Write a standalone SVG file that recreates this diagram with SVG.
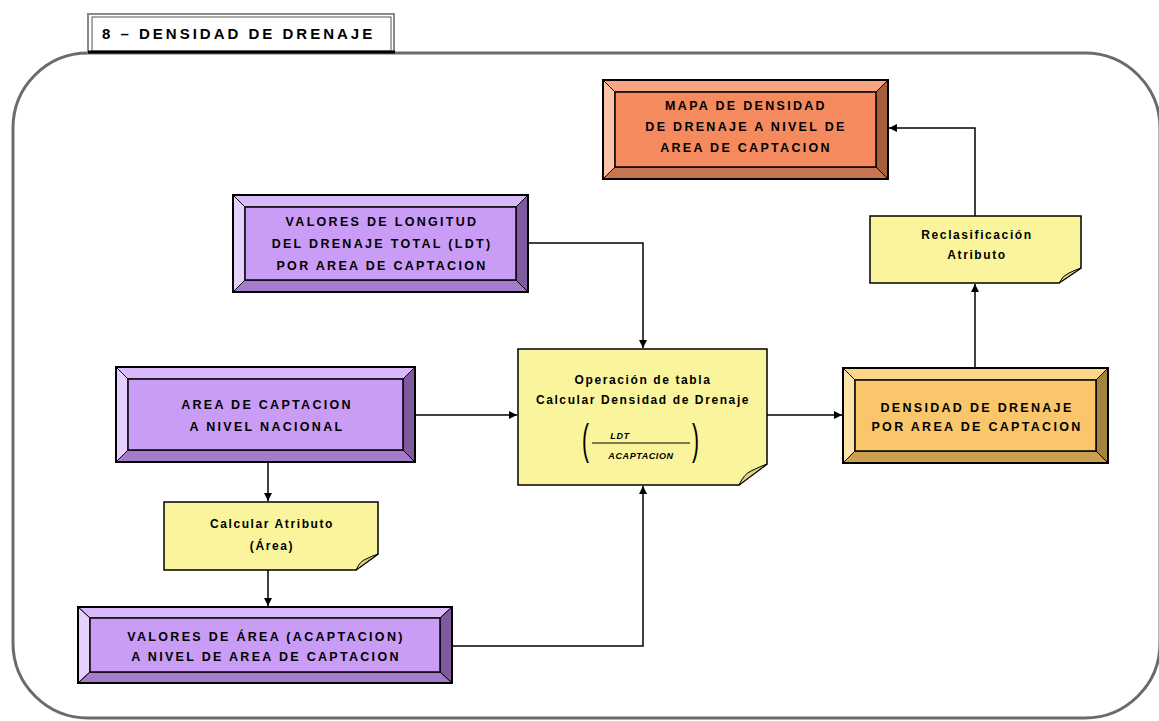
<svg xmlns="http://www.w3.org/2000/svg" width="1159" height="721" viewBox="0 0 1159 721">
  <style>
    .frame { fill: none; stroke: #6b6b6b; stroke-width: 3; }
    .edge { stroke: #000; stroke-width: 1; }
    .outer { fill: none; stroke: #000; stroke-width: 2; }
    .inner { stroke: #000; stroke-width: 1.5; }
    .btxt { font-family: "Liberation Sans", Arial, sans-serif; font-weight: bold; font-size: 12.5px; letter-spacing: 2.3px; text-anchor: middle; fill: #000; }
    .ntxt { font-family: "Liberation Sans", Arial, sans-serif; font-weight: bold; font-size: 12px; letter-spacing: 1.6px; text-anchor: middle; fill: #000; }
    .title { font-family: "Liberation Sans", Arial, sans-serif; font-weight: bold; font-size: 15px; letter-spacing: 3px; fill: #000; }
    .note { fill: #faf59c; stroke: #000; stroke-width: 1.5; }
    .fold { fill: #d9d17d; stroke: #000; stroke-width: 1; }
    .conn { fill: none; stroke: #000; stroke-width: 1.5; }
    .frac { font-family: "Liberation Sans", Arial, sans-serif; font-weight: bold; font-style: italic; font-size: 9px; text-anchor: middle; fill: #000; letter-spacing: 0.6px; }
    .paren { font-family: "Liberation Sans", Arial, sans-serif; font-weight: normal; font-size: 42px; fill: #000; }
    /* orange */
    .o-main { fill: #f48a5e; } .o-top { fill: #f7a582; } .o-left { fill: #fbc2a5; } .o-right { fill: #a65e3c; } .o-bot { fill: #c97450; }
    /* purple */
    .p-main { fill: #c99cf6; } .p-top { fill: #d8b9fb; } .p-left { fill: #e5d0fe; } .p-right { fill: #805a9f; } .p-bot { fill: #a47cc9; }
    /* gold */
    .g-main { fill: #f9c66b; } .g-top { fill: #fbd68b; } .g-left { fill: #fde3a9; } .g-right { fill: #a2823f; } .g-bot { fill: #caa150; }
  </style>
  <defs>
    <marker id="arrow" viewBox="0 0 10 10" refX="10" refY="5" markerWidth="8" markerHeight="8" markerUnits="userSpaceOnUse" orient="auto">
      <path d="M0,0 L10,5 L0,10 Z" fill="#000"/>
    </marker>
  </defs>

  <rect width="1159" height="721" fill="#fff"/>

  <!-- outer frame -->
  <rect class="frame" x="13" y="53" width="1147" height="665" rx="75" ry="75"/>

  <!-- title tab -->
  <g id="title">
    <rect x="88" y="14" width="306" height="38" fill="#fff" stroke="#8a8a8a" stroke-width="2"/>
    <rect x="92" y="17" width="299" height="34" fill="none" stroke="#555" stroke-width="1"/>
    <line x1="88" y1="52" x2="395" y2="52" stroke="#000" stroke-width="3"/>
    <text class="title" x="102" y="39">8 – DENSIDAD DE DRENAJE</text>
  </g>

  <!-- connectors -->
  <g id="connectors">
    <polyline class="conn" points="528,243 643,243 643,348" marker-end="url(#arrow)"/>
    <line class="conn" x1="415" y1="415" x2="517" y2="415" marker-end="url(#arrow)"/>
    <line class="conn" x1="268" y1="462" x2="268" y2="501" marker-end="url(#arrow)"/>
    <line class="conn" x1="268" y1="570" x2="268" y2="606" marker-end="url(#arrow)"/>
    <polyline class="conn" points="452,646 643,646 643,486" marker-end="url(#arrow)"/>
    <line class="conn" x1="767" y1="415" x2="842" y2="415" marker-end="url(#arrow)"/>
    <line class="conn" x1="975" y1="368" x2="975" y2="284" marker-end="url(#arrow)"/>
    <polyline class="conn" points="975,216 975,128 889,128" marker-end="url(#arrow)"/>
  </g>

  <!-- MAPA DE DENSIDAD -->
  <g id="mapa">
    <rect class="o-main" x="603" y="80" width="285" height="99"/>
    <polygon class="o-top edge" points="603,80 888,80 876,92 615,92"/>
    <polygon class="o-left edge" points="603,80 615,92 615,167 603,179"/>
    <polygon class="o-right edge" points="888,80 888,179 876,167 876,92"/>
    <polygon class="o-bot edge" points="603,179 615,167 876,167 888,179"/>
    <rect class="o-main inner" x="615" y="92" width="261" height="75"/>
    <rect class="outer" x="603" y="80" width="285" height="99"/>
    <text class="btxt" x="746" y="110">MAPA DE DENSIDAD</text>
    <text class="btxt" x="746" y="131">DE DRENAJE A NIVEL DE</text>
    <text class="btxt" x="746" y="152">AREA DE CAPTACION</text>
  </g>

  <!-- VALORES DE LONGITUD -->
  <g id="ldt">
    <rect class="p-main" x="233" y="195" width="295" height="97"/>
    <polygon class="p-top edge" points="233,195 528,195 516,207 245,207"/>
    <polygon class="p-left edge" points="233,195 245,207 245,280 233,292"/>
    <polygon class="p-right edge" points="528,195 528,292 516,280 516,207"/>
    <polygon class="p-bot edge" points="233,292 245,280 516,280 528,292"/>
    <rect class="p-main inner" x="245" y="207" width="271" height="73"/>
    <rect class="outer" x="233" y="195" width="295" height="97"/>
    <text class="btxt" x="382" y="225.5">VALORES DE LONGITUD</text>
    <text class="btxt" x="382" y="247.5">DEL DRENAJE TOTAL (LDT)</text>
    <text class="btxt" x="382" y="269.5">POR AREA DE CAPTACION</text>
  </g>

  <!-- AREA DE CAPTACION -->
  <g id="area">
    <rect class="p-main" x="116" y="367" width="299" height="95"/>
    <polygon class="p-top edge" points="116,367 415,367 403,379 128,379"/>
    <polygon class="p-left edge" points="116,367 128,379 128,450 116,462"/>
    <polygon class="p-right edge" points="415,367 415,462 403,450 403,379"/>
    <polygon class="p-bot edge" points="116,462 128,450 403,450 415,462"/>
    <rect class="p-main inner" x="128" y="379" width="275" height="71"/>
    <rect class="outer" x="116" y="367" width="299" height="95"/>
    <text class="btxt" x="267" y="409">AREA DE CAPTACION</text>
    <text class="btxt" x="267" y="431">A NIVEL NACIONAL</text>
  </g>

  <!-- Calcular Atributo -->
  <g id="calcular">
    <path class="note" d="M164,502 H378 V554 L356,570 H164 Z"/>
    <path class="fold" d="M356,570 Q360,561 366,559 Q372,556 378,554 Z"/>
    <text class="ntxt" x="272" y="527.5">Calcular Atributo</text>
    <text class="ntxt" x="272" y="549.5">(Área)</text>
  </g>

  <!-- VALORES DE AREA -->
  <g id="acaptacion">
    <rect class="p-main" x="78" y="607" width="374" height="76"/>
    <polygon class="p-top edge" points="78,607 452,607 440,618 90,618"/>
    <polygon class="p-left edge" points="78,607 90,618 90,672 78,683"/>
    <polygon class="p-right edge" points="452,607 452,683 440,672 440,618"/>
    <polygon class="p-bot edge" points="78,683 90,672 440,672 452,683"/>
    <rect class="p-main inner" x="90" y="618" width="350" height="54"/>
    <rect class="outer" x="78" y="607" width="374" height="76"/>
    <text class="btxt" x="266" y="641">VALORES DE ÁREA (ACAPTACION)</text>
    <text class="btxt" x="266" y="661">A NIVEL DE AREA DE CAPTACION</text>
  </g>

  <!-- Operación de tabla -->
  <g id="operacion">
    <path class="note" d="M518,349 H767 V464 L739,485 H518 Z"/>
    <path class="fold" d="M739,485 Q744,474 751,471 Q759,467 767,464 Z"/>
    <text class="ntxt" x="643" y="383.5">Operación de tabla</text>
    <text class="ntxt" x="643" y="403.5">Calcular Densidad de Drenaje</text>
    <text class="paren" x="582" y="454" transform="translate(582 0) scale(0.5 1) translate(-582 0)">(</text>
    <text class="paren" x="692" y="454" transform="translate(692 0) scale(0.5 1) translate(-692 0)">)</text>
    <text class="frac" x="620" y="439">LDT</text>
    <line x1="592" y1="443" x2="690" y2="443" stroke="#000" stroke-width="1.2"/>
    <text class="frac" x="641" y="459">ACAPTACION</text>
  </g>

  <!-- DENSIDAD DE DRENAJE -->
  <g id="densidad">
    <rect class="g-main" x="843" y="368" width="265" height="95"/>
    <polygon class="g-top edge" points="843,368 1108,368 1096,380 855,380"/>
    <polygon class="g-left edge" points="843,368 855,380 855,451 843,463"/>
    <polygon class="g-right edge" points="1108,368 1108,463 1096,451 1096,380"/>
    <polygon class="g-bot edge" points="843,463 855,451 1096,451 1108,463"/>
    <rect class="g-main inner" x="855" y="380" width="241" height="71"/>
    <rect class="outer" x="843" y="368" width="265" height="95"/>
    <text class="btxt" x="977" y="411.5">DENSIDAD DE DRENAJE</text>
    <text class="btxt" x="977" y="430.5">POR AREA DE CAPTACION</text>
  </g>

  <!-- Reclasificación -->
  <g id="reclasificacion">
    <path class="note" d="M870,216 H1081 V268 L1059,283 H870 Z"/>
    <path class="fold" d="M1059,283 Q1063,275 1069,273 Q1075,270 1081,268 Z"/>
    <text class="ntxt" x="977" y="238.5">Reclasificación</text>
    <text class="ntxt" x="977" y="258.5">Atributo</text>
  </g>
</svg>
